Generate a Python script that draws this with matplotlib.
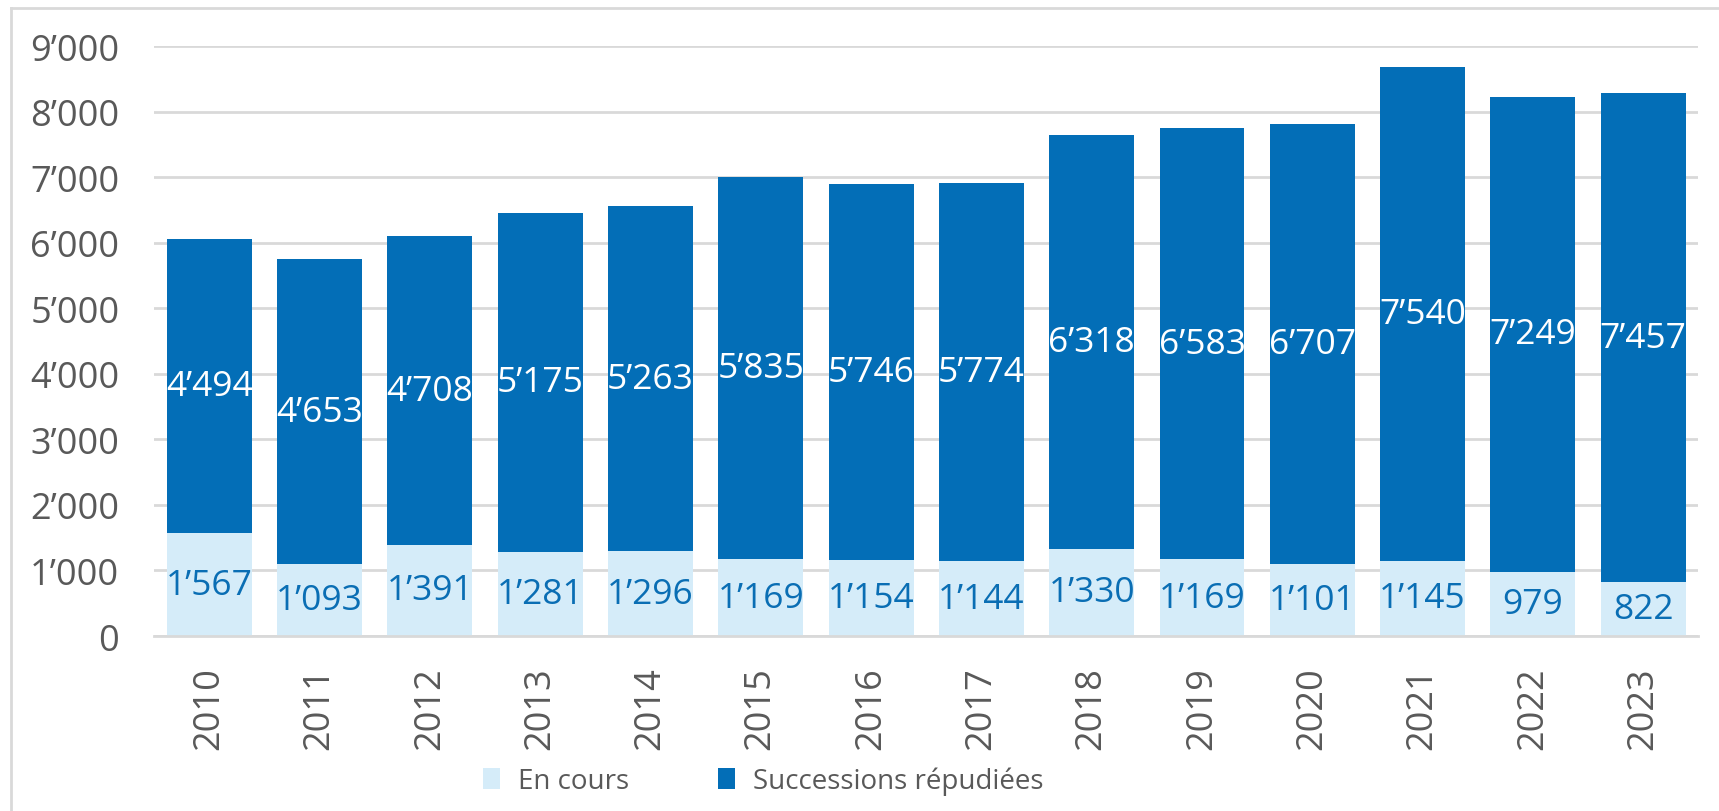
import matplotlib.pyplot as plt
import numpy as np
from matplotlib.lines import Line2D
from matplotlib.patches import Patch

# --- Data ---
years = ["2010", "2011", "2012", "2013", "2014", "2015", "2016",
         "2017", "2018", "2019", "2020", "2021", "2022", "2023"]
en_cours = [1567, 1093, 1391, 1281, 1296, 1169, 1154,
            1144, 1330, 1169, 1101, 1145, 979, 822]
repudiees = [4494, 4653, 4708, 5175, 5263, 5835, 5746,
             5774, 6318, 6583, 6707, 7540, 7249, 7457]
yticks = [0, 1000, 2000, 3000, 4000, 5000, 6000, 7000, 8000, 9000]

DARK = "#036EB7"
LIGHT = "#D5ECF9"
GREY_TXT = "#595959"
GRID = "#D9D9D9"

plt.rcParams["font.family"] = ["Open Sans", "DejaVu Sans"]


def fmt(v):
    return f"{v:,}".replace(",", "\u2019")


fig = plt.figure(figsize=(17.19, 8.12), dpi=100)
ax = fig.add_axes([0.0896, 0.2155, 0.8984, 0.7265])

x = np.arange(len(years))
w = 0.77
ax.bar(x, en_cours, w, color=LIGHT, zorder=2)
ax.bar(x, repudiees, w, bottom=en_cours, color=DARK, zorder=2)

for i in range(len(years)):
    ax.text(x[i], en_cours[i] / 2, fmt(en_cours[i]), ha="center", va="center",
            fontsize=25.5, color="#0A6EB4", zorder=3)
    ax.text(x[i], en_cours[i] + repudiees[i] / 2, fmt(repudiees[i]),
            ha="center", va="center", fontsize=25.5, color="white", zorder=3)

ax.set_xlim(-0.5, len(years) - 0.5)
ax.set_ylim(0, 9000)
ax.set_yticks(yticks)
ax.set_yticklabels([fmt(t) for t in yticks])
ax.set_xticks(x)
ax.set_xticklabels(years, rotation=90)
ax.tick_params(axis="y", length=0, pad=25, labelsize=26, labelcolor=GREY_TXT)
ax.tick_params(axis="x", length=0, pad=22, labelsize=26, labelcolor=GREY_TXT)
ax.grid(axis="y", color=GRID, linewidth=2, zorder=0)
for s in ["top", "right", "left"]:
    ax.spines[s].set_visible(False)
ax.spines["bottom"].set_color(GRID)
ax.spines["bottom"].set_linewidth(2)

handles = [Patch(facecolor=LIGHT, label="En cours"),
           Patch(facecolor=DARK, label="Successions répudiées")]
fig.legend(handles=handles, loc="center", bbox_to_anchor=(0.444, 0.037),
           ncol=2, frameon=False, fontsize=20, labelcolor=GREY_TXT,
           handlelength=0.6, handleheight=0.75, handletextpad=0.65,
           columnspacing=3.2)

# light frame around the chart area
fig.add_artist(Line2D([0.0064, 0.0064], [0, 0.989], transform=fig.transFigure,
                      color=GRID, linewidth=2))
fig.add_artist(Line2D([0.0064, 1], [0.989, 0.989], transform=fig.transFigure,
                      color=GRID, linewidth=2))

fig.savefig("out.png", dpi=100, facecolor="white")
